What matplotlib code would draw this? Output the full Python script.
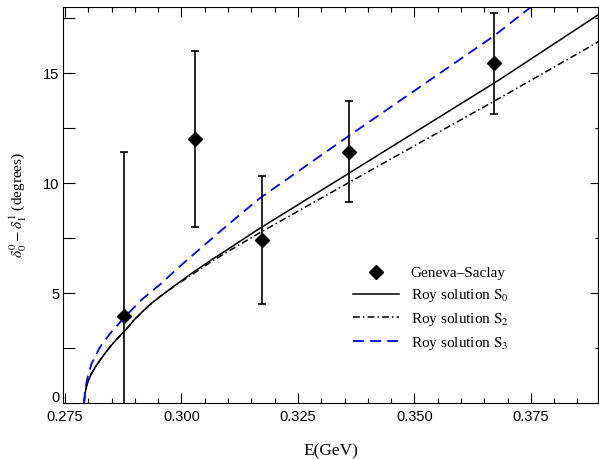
import matplotlib
matplotlib.use("Agg")
import matplotlib.pyplot as plt
from matplotlib.ticker import MultipleLocator, FixedLocator

# Geneva-Saclay data
gs_E = [0.2877, 0.3028, 0.3173, 0.3359, 0.3671]
gs_delta = [3.97, 12.0, 7.42, 11.44, 15.45]
gs_err = [7.45, 4.0, 2.9, 2.3, 2.3]

# Roy solution S0 (solid)
s0_E = [0.2791, 0.2793, 0.2797, 0.2802, 0.2807, 0.2815, 0.2825, 0.2837, 0.2850,
        0.2864, 0.2879, 0.2898, 0.2918, 0.2936, 0.2954, 0.2990,
        0.3025, 0.3060, 0.3096, 0.3168, 0.3359, 0.3682, 0.3894]
s0_d = [0.0, 0.45, 0.85, 1.12, 1.35, 1.65, 1.95, 2.30, 2.65,
        2.98, 3.30, 3.78, 4.20, 4.55, 4.85, 5.42,
        5.95, 6.46, 6.95, 7.95, 10.45, 14.70, 17.65]

# Roy solution S2 (dash-dot)
s2_E = [0.2791, 0.2793, 0.2797, 0.2802, 0.2807, 0.2815, 0.2825, 0.2837, 0.2850,
        0.2864, 0.2879, 0.2898, 0.2918, 0.2936, 0.2954, 0.2990,
        0.3025, 0.3060, 0.3096, 0.3168, 0.3359, 0.3682, 0.3894]
s2_d = [0.0, 0.45, 0.85, 1.12, 1.35, 1.65, 1.95, 2.30, 2.65,
        2.98, 3.30, 3.78, 4.20, 4.55, 4.85, 5.40,
        5.88, 6.38, 6.85, 7.75, 10.03, 13.86, 16.42]

# Roy solution S3 (blue dashed)
s3_E = [0.2791, 0.2793, 0.2797, 0.2802, 0.2807, 0.2825, 0.2846, 0.2879, 0.2915,
        0.2954, 0.2990, 0.3025, 0.3096, 0.3168, 0.3359, 0.3671, 0.3751]
s3_d = [0.0, 0.55, 1.05, 1.45, 1.80, 2.55, 3.15, 3.94, 4.72,
        5.40, 6.10, 6.75, 8.05, 9.32, 12.15, 16.70, 18.03]

x_ticks = [0.275, 0.300, 0.325, 0.350, 0.375]
x_ticklabels = ["0.275", "0.300", "0.325", "0.350", "0.375"]
y_ticks = [0, 5, 10, 15]
y_ticklabels = ["", "5", "10", "15"]
y_zero_label = "0"

plt.rcParams['mathtext.fontset'] = 'stix'

fig = plt.figure(figsize=(5.99, 4.59), dpi=100)
ax = fig.add_axes([0.1057, 0.1214, 0.8933, 0.8627])

lw = 1.1
ax.plot(s0_E, s0_d, color='black', lw=lw, label=r'Roy solution $\mathrm{S}_0$')
ax.plot(s2_E, s2_d, color='black', lw=lw, dashes=(4.5, 2.0, 1.0, 2.0),
        label=r'Roy solution $\mathrm{S}_2$')
ax.plot(s3_E, s3_d, color='#0000ff', lw=lw + 0.2, dashes=(6.0, 3.5),
        label=r'Roy solution $\mathrm{S}_3$')

ax.errorbar(gs_E, gs_delta, yerr=gs_err, fmt='none', ecolor='black',
            elinewidth=1.2, capsize=3.2, capthick=1.2, zorder=4)
ax.plot(gs_E, gs_delta, linestyle='none', marker='D', ms=7.5,
        color='black', zorder=5, label='Geneva\u2013Saclay')

ax.set_xlim(0.27464, 0.3895)
ax.set_ylim(0, 18)

ax.xaxis.set_major_locator(FixedLocator(x_ticks))
ax.set_xticklabels(x_ticklabels)
ax.xaxis.set_minor_locator(MultipleLocator(0.005))
ax.yaxis.set_major_locator(FixedLocator(y_ticks))
ax.set_yticklabels(y_ticklabels)
ax.yaxis.set_minor_locator(MultipleLocator(2.5))

for lab in ax.get_xticklabels() + ax.get_yticklabels():
    lab.set_family('Liberation Sans')
    lab.set_fontsize(10.5)

# "0" on the y axis, lifted a little so it only touches the "0.275" label
ax.annotate(y_zero_label, xy=(0, y_ticks[0]), xycoords=('axes fraction', 'data'),
            xytext=(-3, 3.5), textcoords='offset points', ha='right', va='center',
            family='Liberation Sans', fontsize=10.5)

ax.tick_params(axis='x', which='major', direction='in', length=7.2, width=0.8,
               top=True, pad=5)
ax.tick_params(axis='x', which='minor', direction='in', length=3.3, width=0.8,
               top=True)
ax.tick_params(axis='y', which='both', direction='in', length=8.3, width=0.8,
               right=False, pad=3)

sec = ax.secondary_yaxis('right')
sec.yaxis.set_major_locator(FixedLocator(y_ticks))
sec.yaxis.set_minor_locator(MultipleLocator(2.5))
sec.tick_params(which='major', direction='in', length=6, width=0.8, labelright=False)
sec.tick_params(which='minor', direction='in', length=2.4, width=0.8, labelright=False)
sec.spines['right'].set_linewidth(0.8)

for sp in ax.spines.values():
    sp.set_linewidth(0.8)

ax.set_xlabel('E(GeV)', family='Liberation Serif', fontsize=12.5, labelpad=14)
ax.set_ylabel(r'$\delta_0^0-\delta_1^1$ (degrees)', family='Liberation Serif',
              fontsize=11, labelpad=10)

handles, labels = ax.get_legend_handles_labels()
order = [labels.index('Geneva\u2013Saclay')] + [i for i, l in enumerate(labels) if l != 'Geneva\u2013Saclay']
leg = ax.legend([handles[i] for i in order], [labels[i] for i in order],
                loc='upper left', bbox_to_anchor=(0.541, 0.345), frameon=False,
                prop={'family': 'Liberation Serif', 'size': 11},
                handlelength=3.0, handletextpad=0.8, labelspacing=0.44,
                borderpad=0.0, borderaxespad=0.0, markerscale=0.9)

fig.savefig('out.png', dpi=100)
